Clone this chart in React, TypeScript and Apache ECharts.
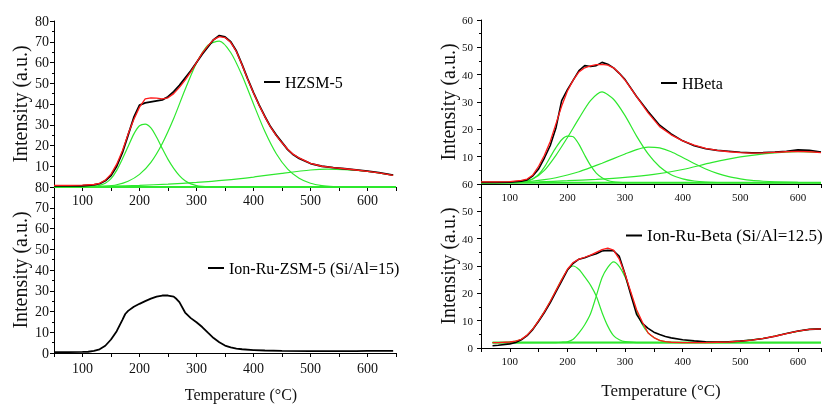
import React, { useEffect, useRef } from 'react';
import * as echarts from 'echarts';

const FONT = 'Liberation Serif';
const GREEN = '#2ee82e';
const RED = '#ff1a1a';
const BLACK = '#000000';

// ---------- HZSM-5 (top left) ----------
const hzsmTemps = [50, 75, 100, 120, 130, 140, 150, 160, 170, 180, 190, 200, 210, 220, 230, 240, 250, 260, 270, 280, 290, 300, 310, 320, 330, 340, 350, 360, 370, 380, 390, 400, 410, 420, 430, 440, 450, 460, 470, 480, 500, 520, 540, 560, 580, 600, 620, 645];
const hzsmExp = [0.5, 0.5, 0.6, 1.0, 1.6, 3.0, 5.5, 10, 16.5, 25, 33.5, 39.5, 40.5, 41, 41.5, 42, 43.5, 46, 49, 52.5, 56, 60, 64, 67.5, 71, 73, 72.3, 70, 65.5, 59, 52, 45.5, 39.5, 34, 29, 25, 21.5, 18, 15.5, 13.8, 11.3, 10, 9.3, 8.8, 8.3, 7.6, 6.9, 5.7];
const hzsmFit = [0.8, 0.8, 0.9, 1.2, 1.8, 3.3, 6.2, 11, 17.5, 25.5, 32.5, 38.5, 42.5, 43, 42.8, 42.5, 43, 45, 48, 51.5, 55.5, 60, 64.5, 68, 71, 72.5, 72, 69.7, 65.3, 58.8, 51.8, 45.3, 39.3, 33.8, 28.8, 24.8, 21.3, 18.2, 15.7, 14, 11.4, 10, 9.3, 8.8, 8.2, 7.5, 6.8, 5.6];
const hzsmP1Temps = [50, 100, 110, 120, 130, 140, 150, 160, 170, 180, 190, 200, 210, 220, 230, 240, 250, 260, 270, 280, 290, 300, 310, 320, 350, 650];
const hzsmP1 = [0, 0.1, 0.2, 0.4, 0.8, 1.8, 4, 8, 13.5, 19.5, 25.5, 29.5, 30.3, 28.5, 24, 18.5, 13.3, 9, 5.5, 3, 1.5, 0.7, 0.3, 0.1, 0, 0];
const hzsmP2Temps = [50, 100, 120, 140, 160, 180, 200, 220, 240, 260, 280, 300, 320, 340, 360, 380, 400, 420, 440, 460, 480, 500, 520, 540, 560, 600, 650];
const hzsmP2 = [0, 0.05, 0.15, 0.4, 1.1, 2.8, 6.1, 11.9, 21, 33, 47, 59.8, 68.4, 70.3, 64.8, 53.7, 40, 26.7, 16, 8.6, 4.2, 1.8, 0.7, 0.25, 0.1, 0, 0];
const hzsmP3Temps = [50, 100, 150, 200, 250, 300, 350, 400, 450, 500, 530, 560, 600, 645];
const hzsmP3 = [0.1, 0.2, 0.4, 0.8, 1.4, 2.2, 3.3, 4.8, 6.6, 8.2, 8.6, 8.4, 7.5, 5.7];
const hzsmBaseTemps = [50, 650];
const hzsmBase = [0, 0];

// ---------- Ion-Ru-ZSM-5 (bottom left) ----------
const ruZsmTemps = [50, 75, 100, 110, 120, 130, 140, 150, 160, 170, 175, 180, 190, 200, 210, 220, 230, 240, 250, 260, 265, 270, 280, 290, 300, 310, 320, 330, 340, 350, 360, 370, 380, 400, 420, 450, 500, 550, 580, 600, 645];
const ruZsmExp = [0.4, 0.4, 0.5, 0.6, 1.0, 1.8, 3.5, 6.5, 10.5, 16, 18.8, 20.3, 22.3, 23.7, 25, 26.2, 27.2, 27.7, 27.7, 27.2, 26, 24.5, 19.5, 16.8, 14.8, 12.5, 9.8, 7.2, 5.2, 3.6, 2.7, 2.1, 1.8, 1.4, 1.2, 1.0, 0.9, 0.9, 0.9, 1.0, 1.0];

// ---------- HBeta (top right) ----------
const hbTemps = [50, 75, 100, 120, 130, 140, 150, 160, 170, 180, 190, 200, 210, 220, 230, 240, 250, 260, 270, 280, 290, 300, 320, 340, 360, 380, 400, 420, 440, 460, 480, 500, 520, 540, 560, 580, 600, 620, 640];
const hbExp = [0.6, 0.6, 0.7, 1.0, 1.5, 3, 5.5, 9.5, 14, 20.5, 30.5, 34.5, 38, 41.5, 43.3, 43, 43.3, 44.5, 43.8, 42.5, 40.5, 38.2, 32, 26.5, 21.5, 18.3, 15.8, 14, 12.9, 12.3, 12, 11.6, 11.4, 11.5, 11.7, 12, 12.5, 12.3, 11.7];
const hbFit = [0.8, 0.8, 0.9, 1.3, 1.8, 3.3, 6.5, 10.5, 15.5, 22, 28.5, 34, 38, 41, 42.5, 43.2, 43.7, 43.8, 43.5, 42.5, 40.5, 38, 32, 26, 21, 18, 15.8, 14.2, 13, 12.3, 11.8, 11.5, 11.3, 11.4, 11.6, 11.8, 11.9, 11.8, 11.5];
const hbP1Temps = [50, 100, 110, 120, 130, 140, 150, 160, 170, 180, 190, 200, 210, 220, 230, 240, 250, 260, 270, 280, 290, 300, 640];
const hbP1 = [0.5, 0.5, 0.55, 0.7, 1.1, 1.9, 3.5, 6.2, 9.8, 13.3, 16.2, 17.5, 17.3, 14.5, 10.5, 6.8, 4, 2.3, 1.3, 0.8, 0.6, 0.5, 0.5];
const hbP2Temps = [50, 100, 120, 140, 160, 180, 200, 220, 240, 260, 280, 300, 320, 340, 360, 380, 400, 420, 440, 460, 500, 640];
const hbP2 = [0.5, 0.5, 0.7, 1.8, 5, 10.5, 17, 24, 30.5, 33.7, 31, 25, 17.5, 11, 6.3, 3.4, 1.9, 1.1, 0.7, 0.55, 0.5, 0.5];
const hbP3Temps = [50, 100, 120, 140, 160, 180, 200, 220, 240, 260, 280, 300, 320, 340, 360, 380, 400, 420, 440, 460, 480, 500, 520, 540, 560, 600, 640];
const hbP3 = [0.5, 0.6, 0.8, 1.1, 1.6, 2.3, 3.3, 4.5, 6, 7.6, 9.3, 11, 12.6, 13.5, 13.2, 11.8, 9.7, 7.5, 5.5, 3.9, 2.7, 1.9, 1.3, 1, 0.8, 0.6, 0.5];
const hbP4Temps = [50, 100, 150, 200, 250, 300, 350, 400, 450, 500, 550, 600, 640];
const hbP4 = [0.5, 0.6, 0.8, 1.2, 1.7, 2.4, 3.5, 5.3, 7.8, 9.9, 11.2, 11.8, 11.6];
const hbBaseTemps = [50, 640];
const hbBase = [0.5, 0.5];

// ---------- Ion-Ru-Beta (bottom right) ----------
const ruBetaTemps = [70, 80, 100, 110, 120, 130, 140, 150, 160, 170, 180, 190, 200, 210, 220, 230, 240, 250, 260, 270, 280, 290, 300, 310, 320, 330, 340, 350, 360, 370, 380, 400, 420, 440, 460, 480, 500, 520, 540, 560, 580, 600, 620, 640];
const ruBetaExp = [0.8, 1.0, 1.5, 2, 3, 4.5, 6.8, 9.8, 13, 16.5, 20.5, 24.5, 28.5, 31, 32.5, 33, 33.8, 34.5, 35.5, 35.7, 35.6, 33.5, 27, 19.5, 12.3, 9, 7.2, 5.8, 4.9, 4.2, 3.7, 3.0, 2.6, 2.3, 2.2, 2.3, 2.5, 2.9, 3.5, 4.3, 5.3, 6.2, 6.8, 7.0];
const ruBetaFit = [2, 2, 2.2, 2.5, 3.2, 4.7, 7, 10, 13.3, 17, 21, 25, 28.8, 31.3, 32.5, 33.2, 34, 35, 36, 36.5, 35.8, 32.5, 27, 20.5, 14, 9.5, 5.5, 3.8, 2.8, 2.3, 2.1, 2, 2, 2, 2.1, 2.2, 2.5, 2.9, 3.5, 4.3, 5.3, 6.2, 6.8, 7.0];
const rbP1Temps = [70, 100, 110, 120, 130, 140, 150, 160, 170, 180, 190, 200, 210, 220, 230, 240, 250, 260, 270, 280, 290, 300, 320, 640];
const rbP1 = [2, 2.2, 2.5, 3.2, 4.7, 7, 10, 13.3, 17, 21, 25, 28.5, 30, 28.7, 26, 23, 19, 13, 8, 4.5, 3, 2.3, 2, 2];
const rbP2Temps = [70, 180, 190, 200, 210, 220, 230, 240, 250, 260, 270, 280, 290, 300, 310, 320, 330, 340, 350, 360, 370, 380, 400, 640];
const rbP2 = [2, 2, 2.1, 2.3, 3.2, 5.5, 8.5, 12.5, 19, 25.7, 29.5, 31.5, 29.8, 26, 20, 13.5, 8.5, 5.5, 3.8, 2.8, 2.3, 2.1, 2, 2];
const rbP3Temps = [70, 400, 450, 500, 540, 580, 620, 640];
const rbP3 = [2, 2, 2.1, 2.5, 3.5, 5.3, 6.8, 7];
const rbBaseTemps = [70, 640];
const rbBase = [2, 2];

const pairs = (xs: number[], ys: number[]) => xs.map((x, i) => [x, ys[i]]);

function line(name: string, idx: number, xs: number[], ys: number[], color: string, width: number, smooth: number | boolean = false) {
  return {
    name,
    type: 'line',
    xAxisIndex: idx,
    yAxisIndex: idx,
    data: pairs(xs, ys),
    showSymbol: false,
    symbol: 'none',
    smooth,
    lineStyle: { color, width },
    itemStyle: { color },
  };
}

function xAxisCfg(idx: number, max: number, fontSize: number, margin: number) {
  return {
    type: 'value',
    gridIndex: idx,
    min: 50,
    max,
    interval: 50,
    axisLine: { show: true, onZero: false, lineStyle: { color: BLACK, width: 1 } },
    axisTick: { show: true, length: 4, lineStyle: { color: BLACK } },
    axisLabel: {
      formatter: (v: number) => (v % 100 === 0 ? String(v) : ''),
      fontSize,
      margin,
      fontFamily: FONT,
      color: '#111',
    },
    splitLine: { show: false },
  };
}

function yAxisCfg(idx: number, max: number, fontSize: number, margin: number, showMin: boolean, nameGap: number) {
  return {
    type: 'value',
    gridIndex: idx,
    min: 0,
    max,
    interval: 10,
    name: 'Intensity (a.u.)',
    nameLocation: 'middle',
    nameGap,
    nameTextStyle: { fontFamily: FONT, fontSize: 20, color: '#111' },
    axisLine: { show: true, lineStyle: { color: BLACK, width: 1 } },
    axisTick: { show: true, length: 4, lineStyle: { color: BLACK } },
    minorTick: { show: true, splitNumber: 2, length: 2, lineStyle: { color: BLACK } },
    axisLabel: { fontSize, margin, fontFamily: FONT, color: '#111', showMinLabel: showMin },
    splitLine: { show: false },
    minorSplitLine: { show: false },
  };
}

function legendCfg(name: string, left: number, top: number, size: number) {
  return {
    data: [name],
    left,
    top,
    padding: 0,
    icon: 'rect',
    itemWidth: 16,
    itemHeight: 2,
    selectedMode: false,
    textStyle: { fontFamily: FONT, fontSize: size, color: '#000' },
  };
}

export default function App() {
  const ref = useRef<HTMLDivElement>(null);
  useEffect(() => {
    if (!ref.current) return;
    const chart = echarts.init(ref.current, undefined, { renderer: 'svg' });
    const title = (x: number, y: number, size: number) => ({
      type: 'text',
      x,
      y,
      style: {
        text: 'Temperature (\u00B0C)',
        fontFamily: FONT,
        fontSize: size,
        fill: '#111',
        align: 'center',
        verticalAlign: 'middle',
      },
    });
    chart.setOption({
      animation: false,
      grid: [
        { left: 54, top: 21, width: 342, height: 166 },
        { left: 54, top: 187, width: 342, height: 166 },
        { left: 481, top: 20, width: 343, height: 164 },
        { left: 481, top: 184, width: 343, height: 164 },
      ],
      xAxis: [
        xAxisCfg(0, 650, 14, 6),
        xAxisCfg(1, 650, 14, 8),
        xAxisCfg(2, 640, 11, 7),
        xAxisCfg(3, 640, 11, 7),
      ],
      yAxis: [
        yAxisCfg(0, 80, 14, 5, false, 24),
        yAxisCfg(1, 80, 14, 5, true, 24),
        yAxisCfg(2, 60, 11, 8, false, 20),
        yAxisCfg(3, 60, 11, 8, true, 20),
      ],
      legend: [
        legendCfg('HZSM-5', 264, 74, 16),
        legendCfg('Ion-Ru-ZSM-5 (Si/Al=15)', 208, 260, 16),
        legendCfg('HBeta', 661, 75, 16),
        legendCfg('Ion-Ru-Beta (Si/Al=12.5)', 626, 227, 17),
      ],
      graphic: [title(241, 394, 16), title(661, 390, 17)],
      series: [
        line('hzsm-base', 0, hzsmBaseTemps, hzsmBase, GREEN, 2.2),
        line('hzsm-p1', 0, hzsmP1Temps, hzsmP1, GREEN, 1.2, 0.25),
        line('hzsm-p2', 0, hzsmP2Temps, hzsmP2, GREEN, 1.2, 0.25),
        line('hzsm-p3', 0, hzsmP3Temps, hzsmP3, GREEN, 1.2, 0.25),
        line('HZSM-5', 0, hzsmTemps, hzsmExp, BLACK, 1.8),
        line('hzsm-fit', 0, hzsmTemps, hzsmFit, RED, 1.3),

        line('Ion-Ru-ZSM-5 (Si/Al=15)', 1, ruZsmTemps, ruZsmExp, BLACK, 1.8),

        line('hb-base', 2, hbBaseTemps, hbBase, GREEN, 2),
        line('hb-p1', 2, hbP1Temps, hbP1, GREEN, 1.2, 0.25),
        line('hb-p2', 2, hbP2Temps, hbP2, GREEN, 1.2, 0.25),
        line('hb-p3', 2, hbP3Temps, hbP3, GREEN, 1.2, 0.25),
        line('hb-p4', 2, hbP4Temps, hbP4, GREEN, 1.2, 0.25),
        line('HBeta', 2, hbTemps, hbExp, BLACK, 1.6),
        line('hb-fit', 2, hbTemps, hbFit, RED, 1.3),

        line('rb-base', 3, rbBaseTemps, rbBase, GREEN, 2),
        line('rb-p1', 3, rbP1Temps, rbP1, GREEN, 1.2, 0.25),
        line('rb-p2', 3, rbP2Temps, rbP2, GREEN, 1.2, 0.25),
        line('rb-p3', 3, rbP3Temps, rbP3, GREEN, 1.2, 0.25),
        line('Ion-Ru-Beta (Si/Al=12.5)', 3, ruBetaTemps, ruBetaExp, BLACK, 1.6),
        line('rb-fit', 3, ruBetaTemps, ruBetaFit, RED, 1.3),
      ],
    });
    return () => chart.dispose();
  }, []);
  return <div ref={ref} style={{ position: 'fixed', left: 0, top: 0, width: 824, height: 405 }} />;
}
